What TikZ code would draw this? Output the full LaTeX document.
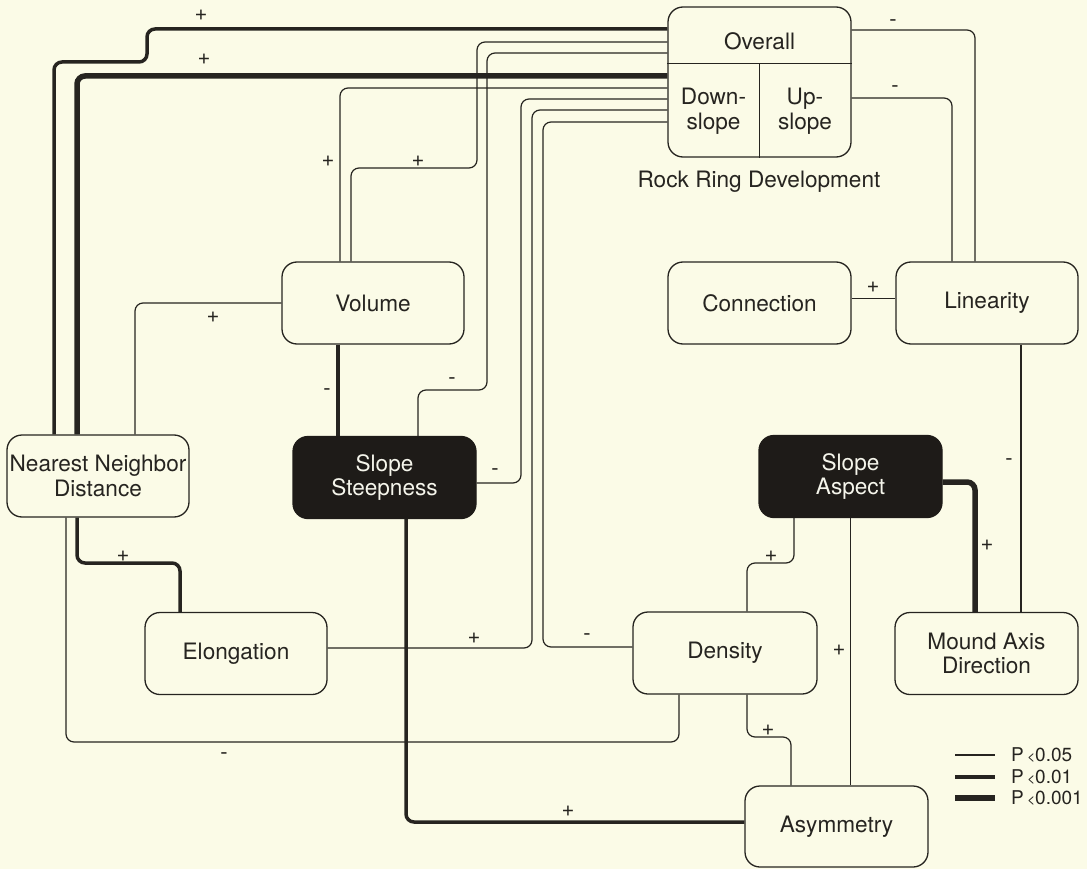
\documentclass[tikz,border=0pt]{standalone}
\usepackage{fontspec}
\setmainfont{TeX Gyre Heros}
\definecolor{bg}{RGB}{251,251,231}
\definecolor{lc}{RGB}{38,36,32}
\definecolor{dk}{RGB}{30,27,24}
\definecolor{wt}{RGB}{245,245,235}
\pgfdeclarelayer{back}
\pgfdeclarelayer{edges}
\pgfsetlayers{back,edges,main}
\begin{document}
\begin{tikzpicture}[x=1pt,y=-1pt,
  box/.style={draw=lc, line width=1.3pt, rounded corners=15pt, minimum width=182pt, minimum height=82pt, fill=bg, align=center, inner sep=0pt, text=lc, font=\fontsize{22.6}{24.5}\selectfont},
  darkbox/.style={box, fill=dk, draw=dk, text=wt},
  txt/.style={align=center, inner sep=0pt, text=lc, font=\fontsize{22.6}{24.5}\selectfont},
  lthin/.style={draw=lc, line width=1.2pt, rounded corners=8pt},
  lmed/.style={draw=lc, line width=3.5pt, rounded corners=8pt},
  lthick/.style={draw=lc, line width=5.5pt, rounded corners=8pt},
  sgn/.style={text=lc, font=\fontsize{22}{22}\selectfont, inner sep=0pt},
  leg/.style={text=lc, font=\fontsize{19}{19}\selectfont, inner sep=0pt, anchor=west},
]
\begin{pgfonlayer}{back}
\fill[bg] (0,0) rectangle (1087,869);
\end{pgfonlayer}
\useasboundingbox (0,0) rectangle (1087,869);

% ---- nodes ----
\node[box, minimum width=183pt, minimum height=150pt] (rrd) at (759.5,82) {};
\draw[lc, line width=1.3pt] ([yshift=-57]rrd.north west) -- ([yshift=-57]rrd.north east);
\draw[lc, line width=1.3pt] ([yshift=-57]rrd.north) -- (rrd.south);
\node[txt] (ov) at (759.5,41) {Overall};
\node[txt] (dn) at (713.5,111) {Down-\\slope};
\node[txt] (upn) at (805,111) {Up-\\slope};
\node[txt] (rrdlab) at (759,182) {Rock Ring Development};

\node[box] (vol) at (373,303) {Volume};
\node[box, minimum width=183pt] (con) at (759.5,303) {Connection};
\node[box] (lin) at (987,303) {Linearity};
\node[box] (nnd) at (98,476) {Nearest Neighbor\\Distance};
\node[darkbox, minimum width=183pt] (sst) at (384.5,477.5) {Slope\\Steepness};
\node[darkbox, minimum width=183pt] (asp) at (850.5,476.5) {Slope\\Aspect};
\node[box] (elo) at (236,653.5) {Elongation};
\node[box, minimum width=184pt] (den) at (725,653) {Density};
\node[box, minimum width=183pt] (mad) at (986.5,653.5) {Mound Axis\\Direction};
\node[box, minimum width=183pt, minimum height=81pt] (asy) at (836.5,826.5) {Asymmetry};

% ---- connectors ----
\begin{pgfonlayer}{edges}
\draw[lmed] ([xshift=-44]nnd.north) -- (54,62) -- (147,62) -- (147,29) -- ([yshift=53]rrd.west);
\draw[lthick] ([xshift=-21]nnd.north) |- ([yshift=6]rrd.west);
\draw[lthin] (vol.west) -| ([xshift=37]nnd.north);
\draw[lthin] ([xshift=-33]vol.north) |- ([yshift=-6]rrd.west);
\draw[lthin] ([xshift=-22]vol.north) |- (477,168) |- ([yshift=40]rrd.west);
\draw[lmed] ([xshift=-35]vol.south) -- ([xshift=-46.5]sst.north);
\draw[lthin] ([xshift=33.5]sst.north) |- (487,390) |- ([yshift=29]rrd.west);
\draw[lthin] ([yshift=-5.5]sst.east) -| (521,99) -- ([yshift=-17]rrd.west);
\draw[lthin] ([yshift=5.5]elo.east) -| (532,110) -- ([yshift=-28]rrd.west);
\draw[lthin] ([yshift=6]den.west) -| (543,122) -- ([yshift=-40]rrd.west);
\draw[lthin] ([xshift=-32]nnd.south) |- (679,742) -- ([xshift=-46]den.south);
\draw[lmed] ([xshift=-21]nnd.south) |- (180,563) -- ([xshift=-56]elo.north);
\draw[lmed] ([xshift=21.5]sst.south) |- ([yshift=4.5]asy.west);
\draw[lthin] ([yshift=52]rrd.east) -| ([xshift=-12]lin.north);
\draw[lthin] ([yshift=-16]rrd.east) -| ([xshift=-35]lin.north);
\draw[lthin] ([yshift=4.5]con.east) -- ([yshift=4.5]lin.west);
\draw[lthin] ([xshift=34]lin.south) -- ([xshift=34.5]mad.north);
\draw[lthick] ([yshift=-5.5]asp.east) -| ([xshift=-11.5]mad.north);
\draw[lthin] ([xshift=-56.5]asp.south) |- (747,563) -- ([xshift=22]den.north);
\draw[lthin] (asp.south) -- ([xshift=14]asy.north);
\draw[lthin] ([xshift=22]den.south) |- (791,737) -- ([xshift=-45.5]asy.north);
\end{pgfonlayer}

% ---- sign labels ----
\node[sgn] (l1) at (201,15) {+};
\node[sgn] (l2) at (204,59) {+};
\node[sgn] (l3) at (328,161) {+};
\node[sgn] (l4) at (418,161) {+};
\node[sgn] (l5) at (213,317) {+};
\node[sgn] (l6) at (327,392) {-};
\node[sgn] (l7) at (452,381) {-};
\node[sgn] (l8) at (495,472) {-};
\node[sgn] (l9) at (123,556) {+};
\node[sgn] (l10) at (474,638) {+};
\node[sgn] (l11) at (587,637) {-};
\node[sgn] (l12) at (224,756) {-};
\node[sgn] (l13) at (568,811) {+};
\node[sgn] (l14) at (893,23) {-};
\node[sgn] (l15) at (895,89) {-};
\node[sgn] (l16) at (873,287) {+};
\node[sgn] (l17) at (1009,462) {-};
\node[sgn] (l18) at (987,545) {+};
\node[sgn] (l19) at (771,556) {+};
\node[sgn] (l20) at (839,650) {+};
\node[sgn] (l21) at (768,730) {+};

% ---- legend ----
\coordinate (g1a) at (955,755); \coordinate (g1b) at (995,755);
\coordinate (g2a) at (955,777); \coordinate (g2b) at (995,777);
\coordinate (g3a) at (955,798); \coordinate (g3b) at (995,798);
\draw[lc, line width=1.2pt] (g1a) -- (g1b);
\draw[lc, line width=3.5pt] (g2a) -- (g2b);
\draw[lc, line width=5.5pt] (g3a) -- (g3b);
\node[leg] (p1) at (1011,755) {P\,\raisebox{0.5pt}{\fontsize{14}{14}\selectfont<}0.05};
\node[leg] (p2) at (1011,777) {P\,\raisebox{0.5pt}{\fontsize{14}{14}\selectfont<}0.01};
\node[leg] (p3) at (1011,798) {P\,\raisebox{0.5pt}{\fontsize{14}{14}\selectfont<}0.001};
\end{tikzpicture}
\end{document}
